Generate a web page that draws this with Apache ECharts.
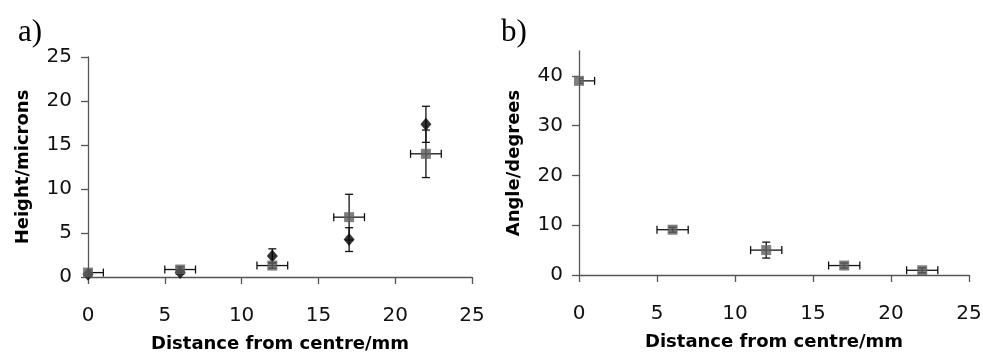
<!DOCTYPE html>
<html>
<head>
<meta charset="utf-8">
<script src="https://cdn.jsdelivr.net/npm/echarts@6/dist/echarts.min.js"></script>
<style>
html,body{margin:0;padding:0;background:#fff;}
#chart{width:983px;height:352px;}
</style>
</head>
<body>
<div id="chart"></div>
<script>
// ---- data ----
const distance = [0, 6, 12, 17, 22];
const distanceErr = [1, 1, 1, 1, 1];
const heightSquare = [0.5, 0.85, 1.3, 6.8, 14.0];
const heightSquareErr = [0.3, 0.3, 0.3, 2.6, 2.7];
const heightDiamond = [0.3, 0.5, 2.4, 4.25, 17.35];
const heightDiamondErr = [0.2, 0.2, 0.8, 1.35, 2.05];
const angle = [39, 9.1, 5.0, 1.9, 0.95];
const angleErr = [0.5, 0.5, 1.6, 0.5, 0.5];
const xTicks = [0, 5, 10, 15, 20, 25];
const heightTicks = [0, 5, 10, 15, 20, 25];
const angleTicks = [0, 10, 20, 30, 40];

const FONT = '"DejaVu Sans", Verdana, sans-serif';
const SERIF = '"Liberation Serif", "Times New Roman", serif';
const AXIS_COLOR = '#555';
const SQ_COLOR = '#5f5f5f';

function errRows(xs, ys, xe, ye) {
  return xs.map((x, i) => [x, ys[i], xe ? xe[i] : 0, ye ? ye[i] : 0]);
}

function errorRender(params, api) {
  const x = api.value(0), y = api.value(1), xe = api.value(2), ye = api.value(3);
  const children = [];
  const style = { stroke: '#111', lineWidth: 1.3 };
  const cap = 4;
  if (xe > 0) {
    const a = api.coord([x - xe, y]), b = api.coord([x + xe, y]);
    children.push({ type: 'line', shape: { x1: a[0], y1: a[1], x2: b[0], y2: b[1] }, style });
    children.push({ type: 'line', shape: { x1: a[0], y1: a[1] - cap, x2: a[0], y2: a[1] + cap }, style });
    children.push({ type: 'line', shape: { x1: b[0], y1: b[1] - cap, x2: b[0], y2: b[1] + cap }, style });
  }
  if (ye > 0) {
    const a = api.coord([x, y - ye]), b = api.coord([x, y + ye]);
    children.push({ type: 'line', shape: { x1: a[0], y1: a[1], x2: b[0], y2: b[1] }, style });
    children.push({ type: 'line', shape: { x1: a[0] - cap, y1: a[1], x2: a[0] + cap, y2: a[1] }, style });
    children.push({ type: 'line', shape: { x1: b[0] - cap, y1: b[1], x2: b[0] + cap, y2: b[1] }, style });
  }
  return { type: 'group', children };
}

function xAxisCfg(gridIndex) {
  return {
    type: 'value', gridIndex, min: 0, max: 25, interval: 5,
    name: 'Distance from centre/mm', nameLocation: 'middle', nameGap: 58,
    nameTextStyle: { fontFamily: FONT, fontWeight: 'bold', fontSize: 18, color: '#000' },
    axisLine: { show: true, onZero: false, lineStyle: { color: AXIS_COLOR, width: 1.3 } },
    axisTick: { show: true, length: 7, lineStyle: { color: AXIS_COLOR, width: 1.3 } },
    axisLabel: { fontFamily: FONT, fontSize: 20, color: '#111', margin: 29, customValues: xTicks },
    splitLine: { show: false }
  };
}

function yAxisCfg(gridIndex, name, max, interval, ticks, gap) {
  return {
    type: 'value', gridIndex, min: 0, max, interval,
    name, nameLocation: 'middle', nameGap: gap,
    nameTextStyle: { fontFamily: FONT, fontWeight: 'bold', fontSize: 18, color: '#000' },
    axisLine: { show: true, onZero: false, lineStyle: { color: AXIS_COLOR, width: 1.3 } },
    axisTick: { show: true, length: 7, customValues: ticks, lineStyle: { color: AXIS_COLOR, width: 1.3 } },
    axisLabel: { fontFamily: FONT, fontSize: 20, color: '#111', margin: 16, customValues: ticks },
    splitLine: { show: false }
  };
}

const chart = echarts.init(document.getElementById('chart'), null, { renderer: 'canvas' });
chart.setOption({
  backgroundColor: '#fff',
  animation: false,
  title: [
    { text: 'a)', left: 13, top: 12, textStyle: { fontFamily: SERIF, fontSize: 31, fontWeight: 'normal', color: '#000' } },
    { text: 'b)', left: 496, top: 12, textStyle: { fontFamily: SERIF, fontSize: 31, fontWeight: 'normal', color: '#000' } }
  ],
  grid: [
    { left: 88, top: 57, width: 384, height: 220, containLabel: false, outerBoundsMode: 'none' },
    { left: 579, top: 51, width: 390, height: 224, containLabel: false, outerBoundsMode: 'none' }
  ],
  xAxis: [xAxisCfg(0), xAxisCfg(1)],
  yAxis: [
    yAxisCfg(0, 'Height/microns', 25, 5, heightTicks, 56),
    yAxisCfg(1, 'Angle/degrees', 45, 5, angleTicks, 56)
  ],
  series: [
    { type: 'custom', xAxisIndex: 0, yAxisIndex: 0, clip: true, renderItem: errorRender,
      data: errRows(distance, heightDiamond, null, heightDiamondErr), z: 2 },
    { type: 'scatter', xAxisIndex: 0, yAxisIndex: 0, symbol: 'diamond', symbolSize: [11, 13],
      itemStyle: { color: '#000' }, data: distance.map((x, i) => [x, heightDiamond[i]]), z: 3 },
    { type: 'custom', xAxisIndex: 0, yAxisIndex: 0, clip: true, renderItem: errorRender,
      data: errRows(distance, heightSquare, distanceErr, heightSquareErr), z: 4 },
    { type: 'scatter', xAxisIndex: 0, yAxisIndex: 0, symbol: 'rect', symbolSize: 10,
      itemStyle: { color: SQ_COLOR }, data: distance.map((x, i) => [x, heightSquare[i]]), z: 5 },
    { type: 'custom', xAxisIndex: 1, yAxisIndex: 1, clip: true, renderItem: errorRender,
      data: errRows(distance, angle, distanceErr, angleErr), z: 4 },
    { type: 'scatter', xAxisIndex: 1, yAxisIndex: 1, symbol: 'rect', symbolSize: 10,
      itemStyle: { color: SQ_COLOR }, data: distance.map((x, i) => [x, angle[i]]), z: 5 }
  ]
});
</script>
</body>
</html>
